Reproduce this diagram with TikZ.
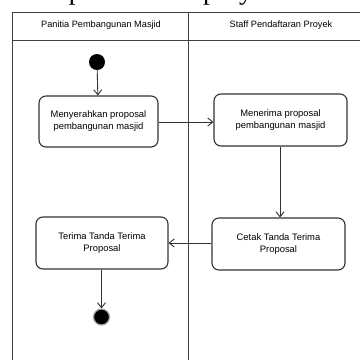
\documentclass[tikz,border=0pt]{standalone}
\usepackage{fontspec}
\setmainfont{Liberation Sans}
\newfontfamily\titlefont{Liberation Serif}
\usetikzlibrary{arrows.meta}
\definecolor{lane}{HTML}{404040}
\definecolor{edge}{HTML}{333333}
\tikzset{
  act/.style={draw=edge, line width=1.1pt, rounded corners=7pt, fill=white,
    minimum width=#1, minimum height=51pt, align=center, inner sep=2pt,
    font=\fontsize{9.4}{12}\selectfont},
  act/.default=130pt,
  flow/.style={draw=edge, line width=0.9pt, -{Straight Barb[length=5pt,width=8pt,line width=0.9pt]}},
  lanehead/.style={font=\fontsize{9.2}{11}\selectfont, inner sep=0pt},
  swim/.style={draw=lane, line width=1pt},
}
\begin{document}
\begin{tikzpicture}[x=1pt,y=-1pt]
\useasboundingbox (0,0) rectangle (360,360);
\fill[white] (0,0) rectangle (360,360);
% clipped title above the frame
\node[anchor=base west, inner sep=0pt, font=\titlefont\fontsize{27}{30}\selectfont] (title) at (-7,-0.5) {sistem pendaftaran proyek};
% swimlane frame
\draw[swim] (13,372) -- (13,12.5) -- (372,12.5);
\draw[swim] (13,40) -- (372,40);
\draw[swim] (189,12.5) -- (189,372);
\node[lanehead] (lane1) at (101,25.5) {Panitia Pembangunan Masjid};
\node[lanehead] (lane2) at (281,25.5) {Staff Pendaftaran Proyek};
% nodes
\node[circle, fill=black, minimum size=16pt, inner sep=0pt] (start) at (97,62) {};
\node[act=119pt] (a1) at (98.5,121.5) {Menyerahkan proposal\\pembangunan masjid};
\node[act=133pt, minimum height=52pt] (a2) at (280.5,120) {Menerima proposal\\pembangunan masjid};
\node[act=133pt, minimum height=52pt] (a4) at (278.5,244) {Cetak Tanda Terima\\Proposal};
\node[act=132pt, minimum height=52pt] (a3) at (102,243) {Terima Tanda Terima\\Proposal};
\node[circle, fill=black, draw=gray!70, line width=1.2pt, minimum size=16pt, inner sep=0pt] (end) at (101.5,317) {};
% flows
\draw[flow] (start) -- (a1);
\draw[flow] (a1.east |- 0,122) -- (a2.west |- 0,122);
\draw[flow] (a2.south -| 280,0) -- (a4.north -| 280,0);
\draw[flow] (a4.west |- 0,243) -- (a3.east |- 0,243);
\draw[flow] (a3.south -| 101.5,0) -- (end);
\end{tikzpicture}
\end{document}
